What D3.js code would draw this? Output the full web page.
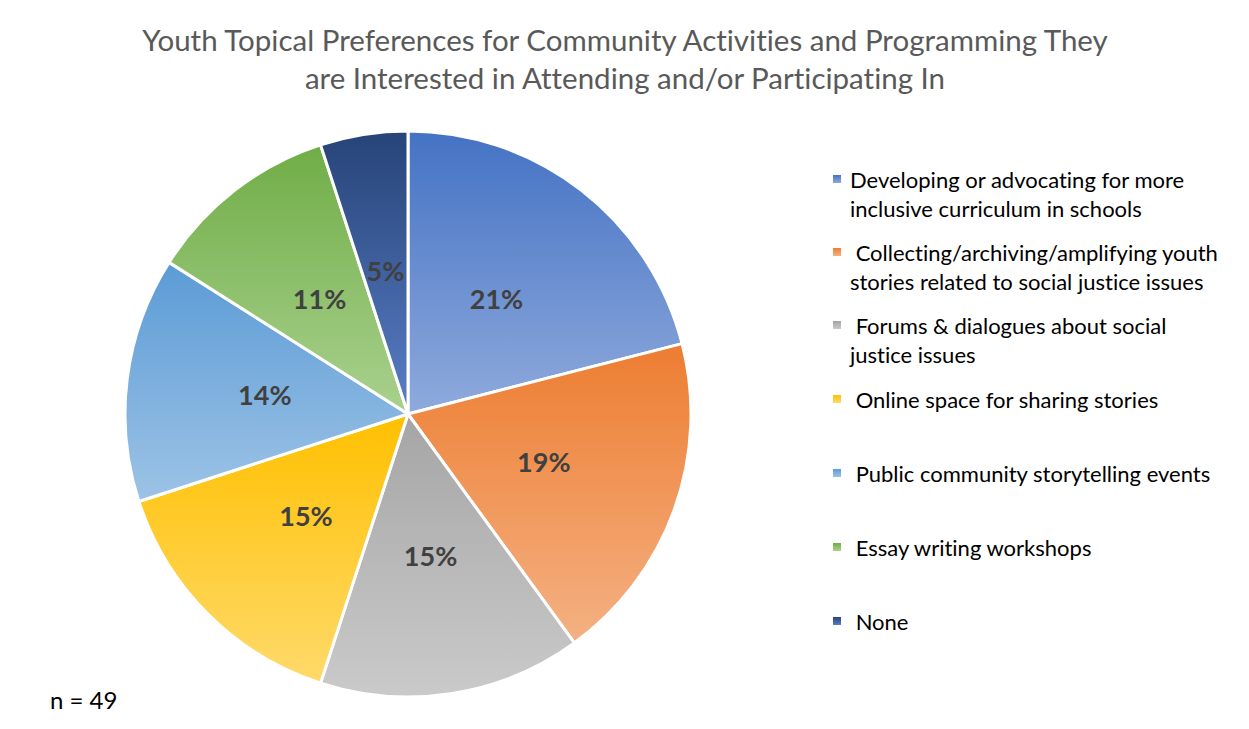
<!DOCTYPE html>
<html>
<head>
<meta charset="utf-8">
<script src="https://cdn.jsdelivr.net/npm/d3@7"></script>
<style>
  html, body { margin: 0; padding: 0; background: #fff; }
  svg { display: block; }
  text { font-family: Lato, "Open Sans", sans-serif; font-variant-ligatures: none; }
</style>
</head>
<body>
<svg id="chart" width="1249" height="729"></svg>
<script>
// Survey responses (share of respondents, %)
const categories = [
  "Developing or advocating for more inclusive curriculum in schools",
  "Collecting/archiving/amplifying youth stories related to social justice issues",
  "Forums & dialogues about social justice issues",
  "Online space for sharing stories",
  "Public community storytelling events",
  "Essay writing workshops",
  "None"
];
const values = [21, 19, 15, 15, 14, 11, 5];
const legendLines = [
  ["Developing or advocating for more", "inclusive curriculum in schools"],
  [" Collecting/archiving/amplifying youth", "stories related to social justice issues"],
  [" Forums & dialogues about social", "justice issues"],
  [" Online space for sharing stories"],
  [" Public community storytelling events"],
  [" Essay writing workshops"],
  [" None"]
];
// gradient stops per slice: [top colour, bottom colour]
const colorsTop    = ["#4472C4", "#ED7D31", "#A5A5A5", "#FFC000", "#5B9BD5", "#70AD47", "#264478"];
const colorsBottom = ["#8FAADC", "#F4B183", "#CACACA", "#FFDA6B", "#9DC3E6", "#A9D18E", "#5A7DC6"];
const titleLines = [
  "Youth Topical Preferences for Community Activities and Programming They",
  "are Interested in Attending and/or Participating In"
];
const footnote = "n = 49";

const svg = d3.select("#chart");
const defs = svg.append("defs");

values.forEach((v, i) => {
  const g = defs.append("linearGradient")
    .attr("id", "grad" + i)
    .attr("x1", 0).attr("y1", 0).attr("x2", 0).attr("y2", 1);
  g.append("stop").attr("offset", "0%").attr("stop-color", colorsTop[i]);
  g.append("stop").attr("offset", "100%").attr("stop-color", colorsBottom[i]);
});

// Title
const title = svg.append("g");
titleLines.forEach((t, i) => {
  title.append("text")
    .attr("x", 625)
    .attr("y", 51 + i * 38)
    .attr("text-anchor", "middle")
    .attr("fill", "#595959")
    .attr("font-size", 29.5)
    .text(t);
});

// Pie
const cx = 408, cy = 414, R = 283;
const pie = d3.pie().sort(null).value(d => d);
const arcs = pie(values);
const arc = d3.arc().innerRadius(0).outerRadius(R);
const labelArc = d3.arc().innerRadius(R * 0.51).outerRadius(R * 0.51);

const pg = svg.append("g").attr("transform", `translate(${cx},${cy})`);
pg.selectAll("path.slice")
  .data(arcs)
  .join("path")
  .attr("class", "slice")
  .attr("d", arc)
  .attr("fill", (d, i) => `url(#grad${i})`)
  .attr("stroke", "#fff")
  .attr("stroke-width", 3)
  .attr("stroke-linejoin", "round");

pg.selectAll("text.lbl")
  .data(arcs)
  .join("text")
  .attr("class", "lbl")
  .attr("transform", d => `translate(${labelArc.centroid(d)})`)
  .attr("text-anchor", "middle")
  .attr("dy", "0.35em")
  .attr("font-size", 27)
  .attr("font-weight", "bold")
  .attr("fill", "#404040")
  .text(d => d.data + "%");

// Legend
const legend = svg.append("g");
const itemTop = [180, 253, 326, 400, 474, 548, 622];
legendLines.forEach((lines, i) => {
  const gi = legend.append("g");
  gi.append("rect")
    .attr("x", 833).attr("y", itemTop[i] - 5)
    .attr("width", 8).attr("height", 8)
    .attr("fill", `url(#grad${i})`);
  lines.forEach((ln, j) => {
    gi.append("text")
      .attr("x", 850)
      .attr("y", itemTop[i] + 8 + j * 29)
      .attr("font-size", 22)
      .attr("fill", "#000")
      .attr("xml:space", "preserve")
      .style("white-space", "pre")
      .text(ln);
  });
});

// Sample size note
svg.append("text")
  .attr("x", 50).attr("y", 709)
  .attr("font-size", 24)
  .attr("fill", "#000")
  .text(footnote);
</script>
</body>
</html>
